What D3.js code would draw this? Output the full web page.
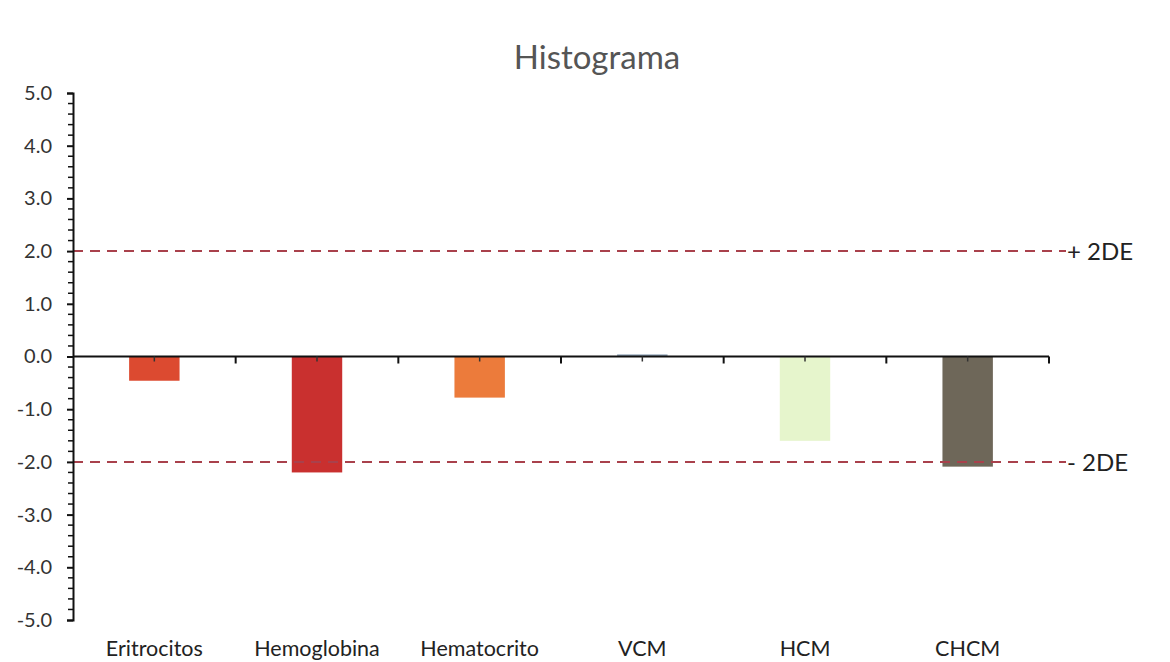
<!DOCTYPE html>
<html><head><meta charset="utf-8">
<script src="https://cdn.jsdelivr.net/npm/d3@7"></script>
<style>body{margin:0;background:#fff}svg{display:block}</style>
</head><body>
<svg id="c" width="1170" height="662"></svg>
<script>
const categories = ["Eritrocitos","Hemoglobina","Hematocrito","VCM","HCM","CHCM"];
const values = [-0.46, -2.2, -0.78, 0.04, -1.6, -2.09];
const barColors = ["#dc4a30","#c9302f","#ec7b3b","#8ea3b6","#e6f5cc","#6e6759"];
const yTicks = [5,4,3,2,1,0,-1,-2,-3,-4,-5];
const refLines = [{v:2,label:"+ 2DE"},{v:-2,label:"- 2DE"}];
const title = "Histograma";

const svg = d3.select("#c");
const font = "Lato, 'Open Sans', sans-serif";
const x = d3.scaleBand().domain(categories).range([73,1049]).paddingInner(0.69).paddingOuter(0.345);
const xb = d3.scaleBand().domain(categories).range([73,1049]);
const y = d3.scaleLinear().domain([-5,5]).range([620,93]);

svg.append("text").attr("x",597).attr("y",69).attr("text-anchor","middle")
  .attr("font-family",font).attr("font-size",33).attr("fill","#555").text(title);

// bars
svg.selectAll("rect.bar").data(values).join("rect").attr("class","bar")
  .attr("x",(d,i)=>x(categories[i])).attr("width",x.bandwidth())
  .attr("y",d=>y(Math.max(0,d))).attr("height",d=>Math.abs(y(d)-y(0)))
  .attr("fill",(d,i)=>barColors[i]);

// reference lines
refLines.forEach(r=>{
  svg.append("line").attr("x1",73).attr("x2",1066).attr("y1",y(r.v)).attr("y2",y(r.v))
    .attr("stroke","#a9414c").attr("stroke-width",2).attr("stroke-dasharray","10,7");
  svg.append("text").attr("x",1067).attr("y",y(r.v)+9).attr("font-family",font)
    .attr("font-size",24).attr("fill","#222").text(r.label);
});

// y axis
const yAxis = d3.axisLeft(y).tickValues(yTicks).tickFormat(d=>d.toFixed(1)).tickSize(6).tickPadding(15);
const gy = svg.append("g").attr("transform","translate(73,0)").call(yAxis);
gy.select(".domain").attr("stroke","#111").attr("stroke-width",2);
gy.selectAll(".tick line").attr("stroke","#111").attr("stroke-width",2);
gy.selectAll("text").attr("font-family",font).attr("font-size",20).attr("fill","#333");
const minor = d3.range(-5,5.001,0.2).filter(v=>Math.abs(v-Math.round(v))>0.01);
svg.append("g").selectAll("line").data(minor).join("line")
  .attr("x1",68).attr("x2",73).attr("y1",d=>y(d)).attr("y2",d=>y(d))
  .attr("stroke","#111").attr("stroke-width",1.5);

// x axis at zero
const gx = svg.append("g").attr("transform",`translate(0,${y(0)})`);
gx.append("line").attr("x1",73).attr("x2",1049).attr("stroke","#111").attr("stroke-width",2);
const bounds = categories.map(c=>xb(c)+xb.bandwidth());
gx.selectAll("line.b").data(bounds).join("line").attr("class","b")
  .attr("x1",d=>d).attr("x2",d=>d).attr("y1",0).attr("y2",7).attr("stroke","#111").attr("stroke-width",2);
gx.selectAll("line.m").data(categories).join("line").attr("class","m")
  .attr("x1",d=>xb(d)+xb.bandwidth()/2).attr("x2",d=>xb(d)+xb.bandwidth()/2)
  .attr("y1",0).attr("y2",5).attr("stroke","#333").attr("stroke-width",1.5);

svg.append("g").selectAll("text").data(categories).join("text")
  .attr("x",d=>xb(d)+xb.bandwidth()/2).attr("y",656).attr("text-anchor","middle")
  .attr("font-family",font).attr("font-size",21.5).attr("fill","#222").text(d=>d);
</script>
</body></html>
